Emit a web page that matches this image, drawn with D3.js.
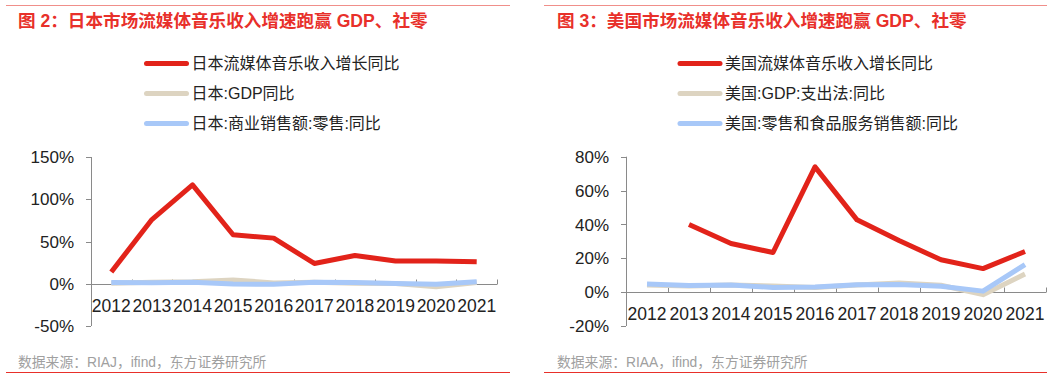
<!DOCTYPE html>
<html>
<head>
<meta charset="utf-8">
<script src="https://cdn.jsdelivr.net/npm/d3@7"></script>
<style>
  body { margin: 0; background: #fff; }
  svg text { font-family: "Liberation Sans", Arial, "Noto Sans CJK SC", sans-serif; }
</style>
</head>
<body>
<div id="chart"></div>
<script>
// data
const years = ["2012","2013","2014","2015","2016","2017","2018","2019","2020","2021"];

const jpStreaming = [14, 76, 117, 58, 54, 24, 33.5, 27, 27, 26];
const jpGdp       = [0.5, 1.8, 2.5, 4.5, 1.0, 1.8, 0.6, 0.3, -3.5, 1.5];
const jpRetail    = [1.5, 1.2, 1.8, -0.3, -0.6, 1.8, 1.6, 0.2, -0.5, 2.4];

const usStreaming = [null, 40, 28.7, 23.4, 74, 42.7, 30.5, 19.1, 13.9, 24];
const usGdp       = [4.2, 3.6, 4.2, 3.7, 2.7, 4.2, 5.4, 4.1, -1.5, 10.7];
const usRetail    = [4.8, 3.9, 4.2, 2.8, 3.0, 4.3, 4.5, 3.5, 0.6, 16.3];

const jpTicks = [-50, 0, 50, 100, 150];
const usTicks = [-20, 0, 20, 40, 60, 80];

const RED = "#e2231a", BEIGE = "#ddd4c1", BLUE = "#a8c8f8";

const svg = d3.select("#chart").append("svg")
  .attr("width", 1061).attr("height", 378);

function panel(opt) {
  const g = svg.append("g");

  // top & bottom red rules
  g.append("line").attr("x1", opt.left).attr("x2", opt.right)
    .attr("y1", 5.5).attr("y2", 5.5).attr("stroke", "#f08f8a").attr("stroke-width", 1);
  g.append("line").attr("x1", opt.left).attr("x2", opt.right)
    .attr("y1", 372.5).attr("y2", 372.5).attr("stroke", "#e8302a").attr("stroke-width", 1);

  // title
  g.append("text").attr("x", opt.titleX).attr("y", 26.5)
    .attr("fill", "#e8302a").style("font-size", "17.6px").style("font-weight", "bold")
    .text(opt.title);

  // source
  g.append("text").attr("x", opt.titleX).attr("y", 366.5)
    .attr("fill", "#a0a0a0").style("font-size", "13.8px")
    .text(opt.source);

  // legend
  const leg = g.selectAll("g.leg").data(opt.legend).enter().append("g")
    .attr("transform", (d, i) => `translate(${opt.legX},${63.5 + i * 30})`);
  leg.append("line").attr("x1", 0).attr("x2", 40).attr("y1", 0).attr("y2", 0)
    .attr("stroke", d => d.color).attr("stroke-width", 5).attr("stroke-linecap", "round");
  leg.append("text").attr("x", 45).attr("y", 0).attr("dy", "0.36em")
    .attr("fill", "#222").style("font-size", "16px").text(d => d.name);

  const x = d3.scaleBand().domain(years).range([opt.x0, opt.x1]);
  const y = d3.scaleLinear().domain(opt.domain).range([326, opt.yTop]);

  // y axis
  g.append("line").attr("x1", opt.x0 + 0.5).attr("x2", opt.x0 + 0.5)
    .attr("y1", y(opt.domain[1])).attr("y2", y(opt.domain[0]))
    .attr("stroke", "#8a8a8a");
  g.selectAll("line.ytick").data(opt.ticks).enter().append("line")
    .attr("x1", opt.x0 - 5).attr("x2", opt.x0)
    .attr("y1", d => Math.round(y(d)) + 0.5).attr("y2", d => Math.round(y(d)) + 0.5)
    .attr("stroke", "#8a8a8a");
  g.selectAll("text.ylab").data(opt.ticks).enter().append("text")
    .attr("x", opt.x0 - 17).attr("y", d => y(d)).attr("dy", "0.36em")
    .attr("text-anchor", "end").attr("fill", "#222").style("font-size", "17px")
    .text(d => d + "%");

  // x axis at zero
  const y0 = Math.round(y(0)) + 0.5;
  g.append("line").attr("x1", opt.x0).attr("x2", opt.x1)
    .attr("y1", y0).attr("y2", y0).attr("stroke", "#8a8a8a");
  g.selectAll("line.xtick").data(years).enter().append("line")
    .attr("x1", d => Math.round(x(d) + x.bandwidth()) + 0.5)
    .attr("x2", d => Math.round(x(d) + x.bandwidth()) + 0.5)
    .attr("y1", y0 - 5).attr("y2", y0).attr("stroke", "#8a8a8a");
  g.selectAll("text.xlab").data(years).enter().append("text")
    .attr("x", d => x(d) + x.bandwidth() / 2).attr("y", y0 + 21).attr("dy", "0.36em")
    .attr("text-anchor", "middle").attr("fill", "#222").style("font-size", "17.5px")
    .text(d => d);

  // series
  const line = d3.line()
    .defined(d => d.v != null)
    .x(d => x(d.k) + x.bandwidth() / 2)
    .y(d => y(d.v));
  opt.series.forEach(s => {
    g.append("path")
      .datum(years.map((k, i) => ({ k: k, v: s.values[i] })))
      .attr("fill", "none").attr("stroke", s.color).attr("stroke-width", 5)
      .attr("stroke-linejoin", "round")
      .attr("d", line);
  });
}

panel({
  left: 6, right: 510, titleX: 18, legX: 146.5,
  title: "图 2：日本市场流媒体音乐收入增速跑赢 GDP、社零",
  source: "数据来源：RIAJ，ifind，东方证券研究所",
  legend: [
    { name: "日本流媒体音乐收入增长同比", color: RED },
    { name: "日本:GDP同比", color: BEIGE },
    { name: "日本:商业销售额:零售:同比", color: BLUE }
  ],
  x0: 91, x1: 497, yTop: 157, domain: [-50, 150], ticks: jpTicks,
  series: [
    { values: jpGdp, color: BEIGE },
    { values: jpRetail, color: BLUE },
    { values: jpStreaming, color: RED }
  ]
});

panel({
  left: 544, right: 1047, titleX: 557, legX: 680,
  title: "图 3：美国市场流媒体音乐收入增速跑赢 GDP、社零",
  source: "数据来源：RIAA，ifind，东方证券研究所",
  legend: [
    { name: "美国流媒体音乐收入增长同比", color: RED },
    { name: "美国:GDP:支出法:同比", color: BEIGE },
    { name: "美国:零售和食品服务销售额:同比", color: BLUE }
  ],
  x0: 626, x1: 1046, yTop: 156.7, domain: [-20, 80], ticks: usTicks,
  series: [
    { values: usGdp, color: BEIGE },
    { values: usRetail, color: BLUE },
    { values: usStreaming, color: RED }
  ]
});
</script>
</body>
</html>
